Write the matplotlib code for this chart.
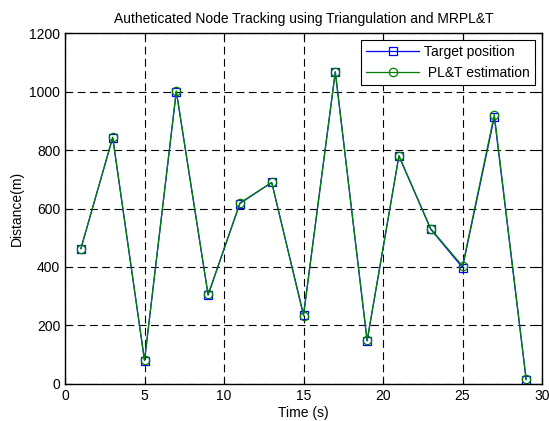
import matplotlib
matplotlib.use("Agg")
import matplotlib.pyplot as plt

plt.rcParams['font.family'] = ['Liberation Sans', 'DejaVu Sans']

# --- Data ---
time_s = [1, 3, 5, 7, 9, 11, 13, 15, 17, 19, 21, 23, 25, 27, 29]
target = [463, 842, 80, 1000, 304, 617, 689, 237, 1067, 147, 779, 529, 398, 913, 15]
estimate = [463, 844, 81, 1002, 306, 619, 689, 233, 1067, 149, 781, 531, 403, 921, 17]

# --- Plot ---
fig = plt.figure(figsize=(5.49, 4.21), dpi=100)
ax = fig.add_axes([0.1184, 0.0879, 0.8689, 0.8337])

ax.plot(time_s, target, color='blue', lw=0.9, marker='s', ms=6,
        mfc='none', mec='blue', mew=0.9, label='Target position')
ax.plot(time_s, estimate, color='green', lw=0.9, marker='o', ms=6,
        mfc='none', mec='green', mew=0.9, label=' PL&T estimation')

ax.set_xlim(0, 30)
ax.set_ylim(0, 1200)
ax.set_xticks(range(0, 31, 5))
ax.set_yticks(range(0, 1201, 200))
ax.grid(True, color='black', linestyle=(0, (7, 4)), linewidth=0.8)
ax.tick_params(direction='in', top=True, right=True, labelsize=10, length=4)
for s in ax.spines.values():
    s.set_linewidth(1.0)

ax.set_xlabel('Time (s)', fontsize=10, labelpad=2)
ax.set_ylabel('Distance(m)', fontsize=10, labelpad=4)
ax.set_title('Autheticated Node Tracking using Triangulation and MRPL&T',
             fontsize=10, pad=7)

leg = ax.legend(loc='upper right', fontsize=10, fancybox=False, framealpha=1,
                edgecolor='black', borderaxespad=0.5, borderpad=0.35,
                handlelength=3.8, handletextpad=0.4)
leg.get_frame().set_linewidth(0.8)

fig.savefig('out.png', dpi=100)
